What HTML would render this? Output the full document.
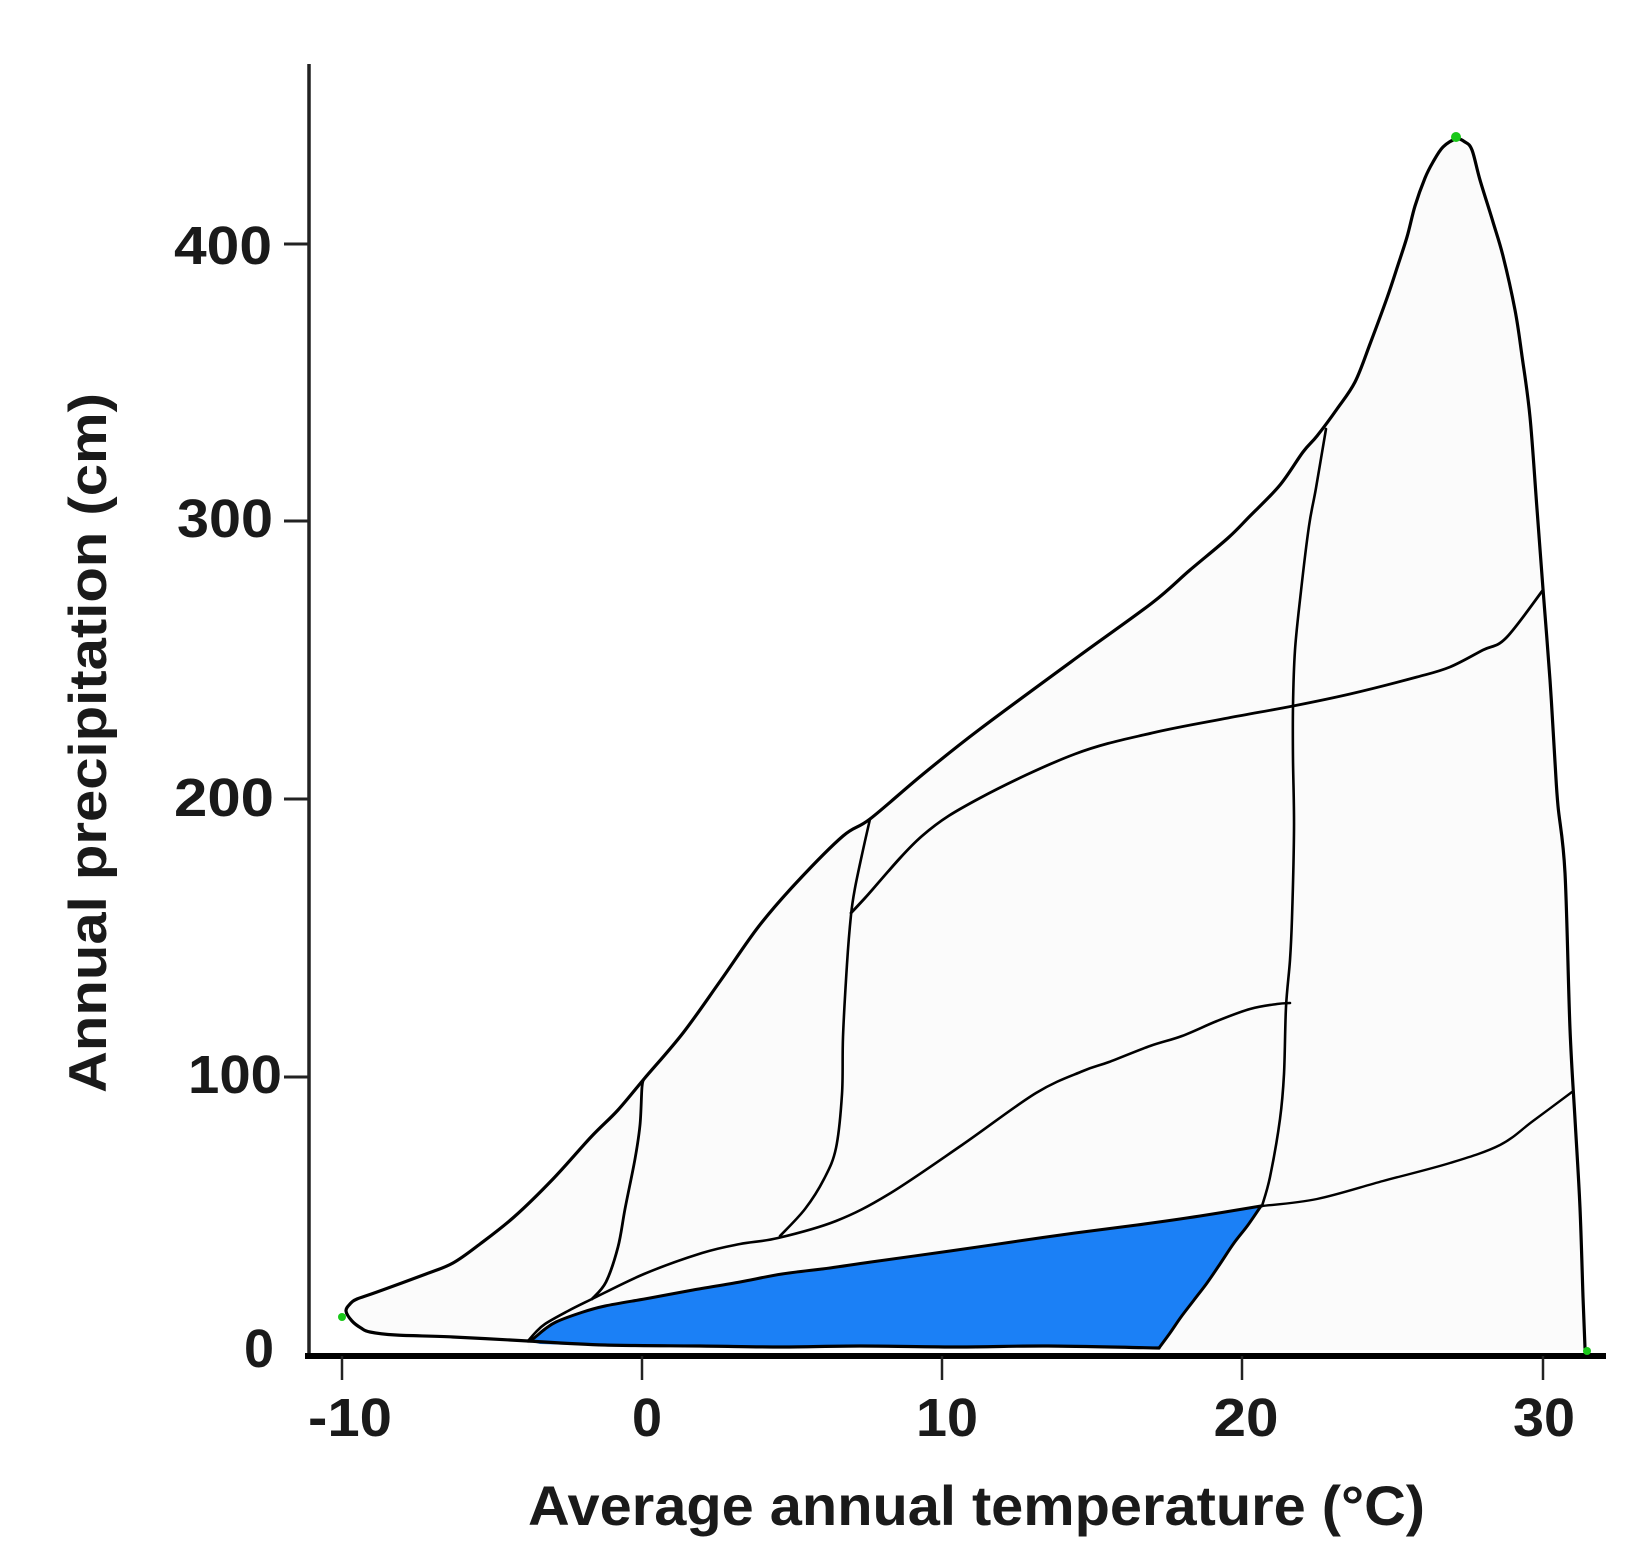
<!DOCTYPE html>
<html>
<head>
<meta charset="utf-8">
<style>
html,body{margin:0;padding:0;background:#fff;}
svg{display:block;}
text{font-family:"Liberation Sans",Arial,sans-serif;font-weight:bold;fill:#1a1a1a;}
</style>
</head>
<body>
<svg id="chart" width="1640" height="1548" viewBox="0 0 1640 1548" xmlns="http://www.w3.org/2000/svg">
<rect width="1640" height="1548" fill="#ffffff"/>

<!-- faint background blob -->
<polygon fill="#fbfbfb" points="528,1341 453,1337 396,1335 361,1328 350,1320 346,1311 357,1299 377,1292 426,1274 453,1263 480,1244 514,1217 553,1179 591,1137 618,1110 644,1079 683,1033 721,980 759,926 797,882 843,836 870,819 922,775 980,729 1079,656 1152,603 1190,570 1228,538 1250,516 1280,485 1303,452 1317,436 1337,409 1355,382 1370,344 1387,298 1397,268 1407,237 1415,206 1433,162 1443,145 1456,139 1470,149 1480,180 1493,222 1503,256 1515,310 1522,356 1530,417 1537,509 1543,589 1550,680 1555,762 1558,806 1565,873 1570,1029 1575,1119 1580,1208 1583,1297 1585,1350 528,1350"/>

<!-- blue region -->
<polygon fill="#1b80f6" points="528,1341 534,1338 545,1329 556,1322 580,1313 605,1306 650,1298 693,1290 740,1282 782,1274 830,1268 871,1262 950,1251 1012,1242 1075,1233 1137,1225 1200,1216 1261,1206 1248,1225 1234,1243 1220,1264 1207,1283 1194,1300 1181,1317 1170,1333 1159,1348 1048,1346 959,1348 860,1346 782,1348 700,1346 605,1346 540,1344"/>

<g fill="none" stroke="#000" stroke-linejoin="round" stroke-linecap="round">
<!-- outer boundary -->
<polyline class="sm" stroke-width="3.2" points="528,1341 453,1337 396,1335 370,1332 361,1328 352,1321 346,1311 350,1304 357,1299 377,1292 426,1274 453,1263 480,1244 514,1217 553,1179 591,1137 618,1110 644,1079 683,1033 721,980 759,926 797,882 843,836 870,819 922,775 980,729 1079,656 1152,603 1190,570 1228,538 1250,516 1280,485 1303,452 1317,436 1337,409 1355,382 1370,344 1387,298 1397,268 1407,237 1415,206 1425,178 1433,162 1443,147 1456,139 1465,142 1472,150 1480,180 1493,222 1503,256 1515,310 1522,356 1530,417 1537,509 1543,589 1550,680 1555,762 1558,806 1565,873 1570,1029 1575,1119 1580,1208 1583,1297 1585,1348"/>
<!-- tundra/blue bottom -->
<polyline class="sm" stroke-width="3.2" points="528,1341 605,1345 700,1346 782,1347 860,1346 959,1347 1048,1346 1159,1348"/>
<!-- blue right edge -->
<polyline class="sm" stroke-width="3" points="1159,1348 1170,1333 1181,1317 1194,1300 1207,1283 1220,1264 1234,1243 1248,1225 1261,1206"/>
<!-- 22C line -->
<polyline class="sm" stroke-width="2.6" points="1262,1206 1270,1177 1280,1119 1284,1074 1286,1007 1290,960 1292,918 1294,829 1293,760 1293,706 1295,650 1301,591 1309,526 1316,488 1326,429"/>
<!-- blue top edge -->
<polyline class="sm" stroke-width="3" points="528,1341 534,1338 545,1329 556,1322 580,1313 605,1306 650,1298 693,1290 740,1282 782,1274 830,1268 871,1262 950,1251 1012,1242 1075,1233 1137,1225 1200,1216 1261,1206"/>
<!-- second curve above blue -->
<polyline class="sm" stroke-width="2.6" points="528,1341 535,1333 545,1324 568,1311 592,1299 644,1274 702,1253 740,1244 778,1238 836,1221 889,1194 962,1145 1036,1093 1083,1071 1109,1062 1150,1046 1182,1036 1217,1021 1250,1009 1277,1004 1290,1003"/>
<!-- 0C vertical -->
<polyline class="sm" stroke-width="2.8" points="644,1079 642,1087 640,1125 635,1159 625,1209 618,1247 606,1282 592,1299"/>
<!-- 7C vertical -->
<polyline class="sm" stroke-width="2.6" points="870,819 863,850 855,888 851,915 847,964 843,1037 842,1094 836,1148 824,1179 805,1209 780,1236"/>
<!-- 200 curve -->
<polyline class="sm" stroke-width="2.8" points="851,913 865,898 922,836 980,798 1075,754 1152,733 1228,718 1293,706 1350,694 1417,677 1450,667 1483,650 1506,638 1543,590"/>
<!-- bottom right curve -->
<polyline class="sm" stroke-width="2.4" points="1262,1206 1317,1199 1383,1181 1450,1163 1500,1145 1533,1121 1572,1092"/>
</g>

<!-- axes -->
<line x1="309" y1="64" x2="309" y2="1358" stroke="#222" stroke-width="3.5"/>
<line x1="305" y1="1356" x2="1606" y2="1356" stroke="#000" stroke-width="6"/>
<!-- y ticks -->
<g stroke="#222" stroke-width="3">
<line x1="284" y1="244" x2="309" y2="244"/>
<line x1="284" y1="521" x2="309" y2="521"/>
<line x1="284" y1="799" x2="309" y2="799"/>
<line x1="284" y1="1077" x2="309" y2="1077"/>
</g>
<!-- x ticks -->
<g stroke="#222" stroke-width="2.5">
<line x1="342" y1="1356" x2="342" y2="1380"/>
<line x1="642" y1="1356" x2="642" y2="1380"/>
<line x1="942" y1="1356" x2="942" y2="1380"/>
<line x1="1242" y1="1356" x2="1242" y2="1380"/>
<line x1="1543" y1="1356" x2="1543" y2="1380"/>
</g>

<!-- green dots -->
<g fill="#19c819">
<circle cx="342" cy="1317" r="4"/>
<circle cx="1456" cy="137" r="5"/>
<circle cx="1587" cy="1351" r="4"/>
</g>

<!-- y tick labels -->
<g font-size="54" text-anchor="end">
<text x="272" y="264" textLength="98" lengthAdjust="spacingAndGlyphs">400</text>
<text x="273" y="537" textLength="96" lengthAdjust="spacingAndGlyphs">300</text>
<text x="274" y="816" textLength="100" lengthAdjust="spacingAndGlyphs">200</text>
<text x="282" y="1093" textLength="94" lengthAdjust="spacingAndGlyphs">100</text>
<text x="274" y="1367">0</text>
</g>

<!-- x tick labels -->
<g font-size="54" text-anchor="middle">
<text x="350" y="1436" textLength="84" lengthAdjust="spacingAndGlyphs">-10</text>
<text x="647" y="1436">0</text>
<text x="947" y="1436" textLength="62" lengthAdjust="spacingAndGlyphs">10</text>
<text x="1246" y="1436" textLength="65" lengthAdjust="spacingAndGlyphs">20</text>
<text x="1544" y="1436" textLength="62" lengthAdjust="spacingAndGlyphs">30</text>
</g>

<!-- axis titles -->
<text x="528" y="1525" font-size="56" textLength="897" lengthAdjust="spacingAndGlyphs">Average annual temperature (°C)</text>
<text transform="translate(106,1093) rotate(-90)" font-size="53" textLength="700" lengthAdjust="spacingAndGlyphs">Annual precipitation (cm)</text>
</svg>
<script>
(function(){
  var ns="http://www.w3.org/2000/svg";
  var pls=document.querySelectorAll("polyline.sm");
  for(var k=0;k<pls.length;k++){
    var pl=pls[k];
    var raw=pl.getAttribute("points").trim().split(/\s+/);
    var p=raw.map(function(s){var a=s.split(",");return [parseFloat(a[0]),parseFloat(a[1])];});
    if(p.length<3) continue;
    var d="M"+p[0][0]+","+p[0][1];
    for(var i=0;i<p.length-1;i++){
      var p0=p[i-1]||p[i],p1=p[i],p2=p[i+1],p3=p[i+2]||p[i+1];
      var c1x=p1[0]+(p2[0]-p0[0])/6,c1y=p1[1]+(p2[1]-p0[1])/6;
      var c2x=p2[0]-(p3[0]-p1[0])/6,c2y=p2[1]-(p3[1]-p1[1])/6;
      d+=" C"+c1x.toFixed(1)+","+c1y.toFixed(1)+" "+c2x.toFixed(1)+","+c2y.toFixed(1)+" "+p2[0]+","+p2[1];
    }
    var path=document.createElementNS(ns,"path");
    path.setAttribute("d",d);
    path.setAttribute("stroke-width",pl.getAttribute("stroke-width"));
    pl.parentNode.replaceChild(path,pl);
  }
})();
</script>
</body>
</html>
